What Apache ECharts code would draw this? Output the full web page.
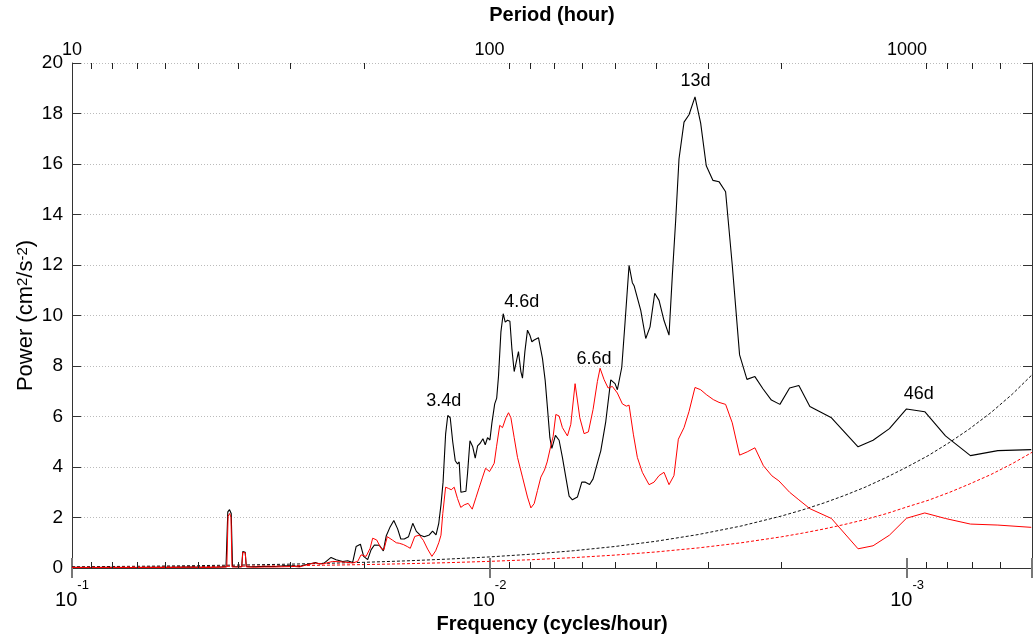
<!DOCTYPE html>
<html><head><meta charset="utf-8">
<script src="https://cdn.jsdelivr.net/npm/echarts@6/dist/echarts.min.js"></script>
<style>html,body{margin:0;padding:0;background:#fff}#c{width:1035px;height:642px}</style>
</head><body><div id="c"></div>
<script>
// ---- data (frequency in cycles/hour, power) ----
const blackFreq = [0.1,0.0907,0.08125,0.07277,0.06519,0.05839,0.05229,0.04815,0.04433,0.04277,
0.04235,0.04195,0.04156,0.04126,0.04014,0.03922,0.03899,0.03873,0.03847,0.03824,
0.03655,0.03459,0.03274,0.03098,0.02932,0.02852,0.02776,0.02700,0.02612,0.02555,
0.02486,0.02396,0.02331,0.02247,0.02186,0.02127,0.02087,0.02038,0.02002,0.01958,
0.01922,0.01887,0.01836,0.01796,0.01767,0.01733,0.01695,0.01660,0.01631,0.01600,
0.01563,0.01527,0.01497,0.01465,0.01433,0.01394,0.01369,0.01343,0.01323,0.01307,
0.01292,0.01274,0.01259,0.01242,0.01225,0.01208,0.01193,0.01182,0.01171,0.01160,
0.01139,0.01129,0.01114,0.01097,0.01082,0.01068,0.01053,0.01037,0.01024,0.01011,
0.009978,0.009869,0.009718,0.009611,0.009516,0.009391,0.009273,0.009171,0.009056,0.008937,
0.008841,0.008728,0.008647,0.008524,0.008412,0.008338,0.008228,0.008111,0.008004,0.007917,
0.007817,0.007634,0.007468,0.007357,0.007265,0.007169,0.007091,0.006952,0.006813,0.006690,
0.006566,0.006447,0.006331,0.006159,0.006011,0.005894,0.005758,0.005649,0.005465,0.005414,
0.005267,0.005124,0.005004,0.004941,0.004822,0.004735,0.004632,0.004549,0.004506,0.004343,
0.004225,0.004126,0.004021,0.003926,0.003820,0.003716,0.003649,0.003581,0.003517,0.003421,
0.003328,0.003220,0.003121,0.003026,0.002916,0.002821,0.002720,0.002622,0.002518,0.002418,
0.002314,0.002214,0.002113,0.002016,0.001911,0.001816,0.001709,0.001517,0.001310,0.001206,
0.001102,0.001003,0.000907,0.000809,0.000705,0.000606,0.000504];
const blackPower = [0.03,0.02,0.03,0.02,0.03,0.03,0.04,0.03,0.04,0.05,
2.22,2.31,2.16,0.06,0.05,0.06,0.65,0.68,0.62,0.06,
0.05,0.07,0.06,0.09,0.08,0.06,0.12,0.16,0.22,0.16,
0.2,0.42,0.33,0.26,0.29,0.22,0.85,0.94,0.46,0.33,
0.72,0.91,0.9,0.68,1.28,1.6,1.88,1.55,1.15,1.15,
1.24,1.77,1.45,1.3,1.24,1.31,1.46,1.31,1.77,2.5,
3.4,5.3,6.04,5.95,5.0,4.25,4.12,4.2,3.0,2.94,
3.04,3.73,5.04,4.8,4.35,4.84,4.94,5.12,4.88,5.16,
5.07,5.75,6.5,6.73,7.6,9.35,10.07,9.74,9.81,9.77,
8.7,7.78,7.76,8.57,7.78,7.52,8.57,9.42,9.22,8.96,
9.03,9.12,8.3,7.43,6.34,5.16,4.74,5.25,5.06,4.38,
3.6,2.85,2.7,2.81,3.4,3.4,3.31,3.53,4.4,4.64,
5.8,7.45,7.3,7.06,7.95,9.74,11.99,11.3,11.18,10.2,
9.09,9.55,10.88,10.6,9.8,9.22,11.58,13.8,16.2,17.66,
17.95,18.66,17.62,15.93,15.35,15.3,14.9,12.0,8.44,7.47,
7.58,7.1,6.65,6.48,7.13,7.23,6.4,5.95,4.8,5.06,
5.52,6.3,6.19,5.23,4.45,4.65,4.69];
const redFreq = [0.1,0.0907,0.08125,0.07277,0.06519,0.05839,0.05229,0.04815,0.04433,0.04258,
0.04228,0.04190,0.04161,0.04138,0.04014,0.03922,0.03899,0.03873,0.03847,0.03824,
0.03655,0.03459,0.03274,0.03098,0.02932,0.02852,0.02776,0.02627,0.02509,0.02375,
0.02247,0.02127,0.02069,0.02031,0.01975,0.01932,0.01905,0.01863,0.01819,0.01791,
0.01757,0.01738,0.01706,0.01672,0.01645,0.01609,0.01574,0.01548,0.01510,0.01473,
0.01441,0.01407,0.01374,0.01346,0.01323,0.01307,0.01294,0.01274,0.01253,0.01235,
0.01215,0.01193,0.01172,0.01150,0.01125,0.01100,0.01078,0.01058,0.01039,0.01022,
0.01,0.009744,0.009622,0.009453,0.009309,0.009136,0.009006,0.008888,0.008728,0.008570,
0.008338,0.008111,0.007960,0.007817,0.007676,0.007534,0.007385,0.007277,0.007131,0.007042,
0.006937,0.006813,0.006690,0.006507,0.006387,0.006238,0.006078,0.005936,0.005797,0.005649,
0.005516,0.005435,0.005316,0.005200,0.005079,0.004941,0.004806,0.004702,0.004632,0.004524,
0.004425,0.004305,0.004149,0.004036,0.003926,0.003820,0.003716,0.003616,0.003530,0.003421,
0.003328,0.003220,0.003121,0.003026,0.002911,0.002821,0.002720,0.002622,0.002518,0.002414,
0.002314,0.002208,0.002107,0.002027,0.001911,0.001816,0.001709,0.001517,0.001310,0.001206,
0.001102,0.001003,0.000907,0.000809,0.000705,0.000606,0.000504];
const redPower = [0.02,0.02,0.02,0.02,0.02,0.02,0.03,0.02,0.03,0.04,
2.05,2.16,2.0,0.04,0.04,0.04,0.62,0.66,0.6,0.04,
0.03,0.04,0.04,0.05,0.06,0.04,0.1,0.2,0.16,0.26,
0.24,0.2,0.26,0.52,0.46,0.78,1.18,1.11,0.78,0.72,
1.24,1.3,1.1,1.0,0.98,0.93,0.85,0.78,1.25,1.3,
1.1,0.75,0.46,0.68,1.0,1.3,2.16,3.2,3.15,3.1,
3.2,2.75,2.4,2.5,2.56,2.33,2.78,3.2,3.6,3.95,
3.82,4.15,4.8,5.65,5.56,5.95,6.15,5.95,5.16,4.38,
3.6,2.81,2.38,2.55,3.07,3.6,3.88,4.2,4.84,5.2,
6.08,6.02,5.56,5.23,5.69,7.3,5.95,5.32,5.39,6.28,
7.39,7.91,7.46,7.13,7.19,6.93,6.5,6.41,6.45,5.3,
4.38,3.79,3.3,3.4,3.66,3.79,3.3,3.66,5.1,5.56,
6.2,7.15,7.06,6.87,6.67,6.56,6.48,5.75,4.47,4.6,
4.76,4.05,3.65,3.45,3.0,2.7,2.35,1.96,0.76,0.88,
1.3,1.97,2.18,1.96,1.74,1.7,1.61];
const noiseFreq  = [0.1,0.08,0.063,0.05,0.04,0.0316,0.025,0.02,0.0158,0.0126,
0.01,0.0079,0.0063,0.005,0.004,0.00316,0.0025,0.002,0.00178,0.00158,
0.00141,0.00126,0.00112,0.001,0.00089,0.00079,0.00071,0.00063,0.00056,0.000502];
const blackNoise = [0.048,0.06,0.075,0.094,0.116,0.145,0.182,0.225,0.283,0.352,
0.439,0.55,0.683,0.853,1.057,1.326,1.66,2.057,2.3,2.578,
2.876,3.2,3.59,4.0,4.45,4.98,5.5,6.15,6.88,7.65];
const redNoise   = [0.029,0.036,0.045,0.056,0.07,0.087,0.109,0.135,0.17,0.211,
0.263,0.33,0.41,0.512,0.634,0.796,0.996,1.234,1.38,1.547,
1.726,1.92,2.154,2.42,2.68,3.0,3.32,3.7,4.13,4.58];
const peakLabels = ['3.4d','4.6d','6.6d','13d','46d'];
const peakFreq   = [0.01287,0.008375,0.005618,0.003211,0.000938];
const peakPower  = [6.6,10.53,8.29,19.28,6.88];
const minorFreqTicks = [0.09,0.08,0.07,0.06,0.05,0.04,0.03,0.02,0.009,0.008,0.007,0.006,0.005,0.004,0.003,0.002,0.0009,0.0008,0.0007,0.0006];
const freqMin = 0.000502, freqMax = 0.1;
const periodMin = 10, periodMax = 1992;
const powerMin = 0, powerMax = 20, powerStep = 2;

const FONT = 'Liberation Sans';
const pairs = (xs, ys) => xs.map((x, i) => [x, ys[i]]);
const isDecade = v => Math.abs(Math.log10(v) - Math.round(Math.log10(v))) < 1e-6;

const chart = echarts.init(document.getElementById('c'));
chart.setOption({
  animation: false,
  backgroundColor: '#fff',
  textStyle: { fontFamily: FONT, color: '#000' },
  grid: { left: 72, right: 2, top: 58, bottom: 74, containLabel: false },
  xAxis: [
    {
      type: 'log', logBase: 10, position: 'bottom', inverse: true,
      min: freqMin, max: freqMax,
      name: 'Frequency (cycles/hour)', nameLocation: 'middle', nameGap: 46, nameMoveOverlap: false,
      nameTextStyle: { fontFamily: FONT, fontSize: 20, fontWeight: 'bold', color: '#000' },
      axisLine: { show: true, lineStyle: { color: '#333', width: 1 } },
      axisTick: { show: true, inside: true, length: 10, lineStyle: { color: '#777', width: 2 } },
      axisLabel: {
        margin: 11,
        formatter: v => isDecade(v) ? '{b|10}{s|' + Math.round(Math.log10(v)) + '}' : '',
        rich: {
          b: { fontFamily: FONT, fontSize: 20, color: '#000', lineHeight: 31, verticalAlign: 'bottom' },
          s: { fontFamily: FONT, fontSize: 13, color: '#000', lineHeight: 10, verticalAlign: 'top' }
        }
      },
      splitLine: { show: false }
    },
    {
      type: 'log', logBase: 10, position: 'top',
      min: periodMin, max: periodMax,
      name: 'Period (hour)', nameLocation: 'middle', nameGap: 38, nameMoveOverlap: false,
      nameTextStyle: { fontFamily: FONT, fontSize: 20, fontWeight: 'bold', color: '#000' },
      axisLine: { show: true, lineStyle: { color: '#333', width: 1 } },
      axisTick: { show: true, inside: true, length: 10, lineStyle: { color: '#777', width: 2 } },
      axisLabel: {
        margin: 4, fontFamily: FONT, fontSize: 18, color: '#000',
        formatter: v => isDecade(v) ? String(Math.round(v)) : ''
      },
      splitLine: { show: false }
    }
  ],
  yAxis: [
    {
      type: 'value', position: 'left', min: powerMin, max: powerMax, interval: powerStep,
      name: 'Power (cm{sup|2}/s{sup|-2})', nameLocation: 'middle', nameGap: 35, nameMoveOverlap: false,
      nameTextStyle: {
        fontFamily: FONT, fontSize: 22, color: '#000',
        rich: { sup: { fontFamily: FONT, fontSize: 15, color: '#000', verticalAlign: 'top', lineHeight: 12 } }
      },
      axisLine: { show: true, lineStyle: { color: '#333', width: 1 } },
      axisTick: { show: true, inside: true, length: 9, lineStyle: { color: '#333', width: 1 } },
      axisLabel: { margin: 9, fontFamily: FONT, fontSize: 19, color: '#000' },
      splitLine: { show: true, lineStyle: { color: '#bbb', width: 1, type: [1, 2] } }
    },
    {
      type: 'value', position: 'right', min: powerMin, max: powerMax, interval: powerStep,
      axisLine: { show: true, lineStyle: { color: '#333', width: 1 } },
      axisTick: { show: true, inside: true, length: 9, lineStyle: { color: '#333', width: 1 } },
      axisLabel: { show: false },
      splitLine: { show: false }
    }
  ],
  series: [
    {
      type: 'custom', xAxisIndex: 0, yAxisIndex: 0, silent: true, z: 5, clip: false,
      data: minorFreqTicks.map(f => [f, 0]),
      renderItem: (params, api) => {
        const x = Math.round(api.coord([api.value(0), 0])[0]) + 0.5;
        const cs = params.coordSys;
        const yb = cs.y + cs.height, yt = cs.y;
        return { type: 'group', children: [
          { type: 'line', shape: { x1: x, y1: yb, x2: x, y2: yb - 6 }, style: { stroke: '#222', lineWidth: 1 } },
          { type: 'line', shape: { x1: x, y1: yt, x2: x, y2: yt + 6 }, style: { stroke: '#222', lineWidth: 1 } }
        ] };
      }
    },
    {
      name: 'black noise', type: 'line', xAxisIndex: 0, yAxisIndex: 0,
      data: pairs(noiseFreq, blackNoise), smooth: false,
      symbol: 'none', lineStyle: { color: '#111', width: 1, type: [3, 2] }, z: 2
    },
    {
      name: 'red noise', type: 'line', xAxisIndex: 0, yAxisIndex: 0,
      data: pairs(noiseFreq, redNoise), smooth: false,
      symbol: 'none', lineStyle: { color: '#ff0000', width: 1, type: [3, 2] }, z: 2
    },
    {
      name: 'black', type: 'line', xAxisIndex: 0, yAxisIndex: 0,
      data: pairs(blackFreq, blackPower), symbol: 'none',
      lineStyle: { color: '#000', width: 1.1 }, z: 3
    },
    {
      name: 'red', type: 'line', xAxisIndex: 0, yAxisIndex: 0,
      data: pairs(redFreq, redPower), symbol: 'none',
      lineStyle: { color: '#ff0000', width: 1 }, z: 4
    },
    {
      name: 'peaks', type: 'scatter', xAxisIndex: 0, yAxisIndex: 0,
      data: pairs(peakFreq, peakPower), symbolSize: 1,
      itemStyle: { color: '#fff', opacity: 1 }, silent: true, z: 6,
      label: {
        show: true, position: 'inside', fontFamily: FONT, fontSize: 18, color: '#000', opacity: 1,
        formatter: p => peakLabels[p.dataIndex]
      }
    }
  ]
});
</script></body></html>
